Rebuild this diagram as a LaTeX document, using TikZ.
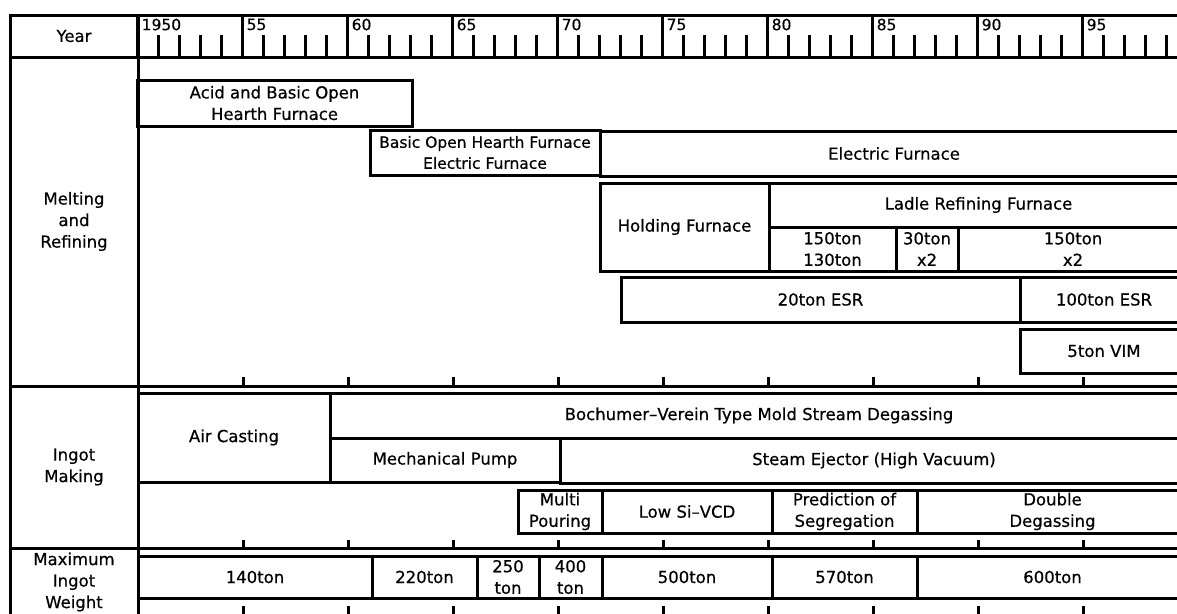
\documentclass[tikz,border=0pt]{standalone}
\usepackage{fontspec}
\setmainfont{DejaVu Sans}[FakeBold=0.5]
\newfontfamily\tlfont{DejaVu Sans}[FakeBold=0.5]
\tikzset{
  cell/.style={draw, line width=3pt, rectangle, inner sep=0pt, outer sep=0pt,
    align=center, font=\tlfont\fontsize{16.5}{21.5}\selectfont},
  tickline/.style={line width=3pt},
  yearlbl/.style={anchor=north west, inner sep=0pt, font=\tlfont\fontsize{15.5}{15.5}\selectfont},
}
% #1 x1, #2 y1, #3 x2, #4 y2, #5 name, #6 text
\newcommand\tlbox[7][]{%
  \pgfmathsetmacro\bxw{#4-#2}\pgfmathsetmacro\bxh{#5-#3}%
  \pgfmathsetmacro\bxx{(#2+#4)/2}\pgfmathsetmacro\bxy{(#3+#5)/2}%
  \node[cell, minimum width=\bxw pt, minimum height=\bxh pt, #1] (#6) at (\bxx,\bxy) {#7};}
\begin{document}
\begin{tikzpicture}[x=1pt,y=-1pt]
\useasboundingbox (0,0) rectangle (1177,613);
\fill[white] (0,0) rectangle (1177,613);
\clip (0,0) rectangle (1177,613);

% ---------- left column ----------
\tlbox{10}{15}{138}{57}{year}{Year}
\tlbox{10}{57}{138}{386}{melt}{Melting\\and\\Refining}
\tlbox{10}{386}{138}{548}{ingot}{Ingot\\Making}
\tlbox{10}{548}{138}{616}{maxw}{Maximum\\Ingot\\Weight}

% ---------- section frames ----------
\tlbox{138}{15}{1188}{57}{scale}{}
\tlbox{138}{57}{1188}{386}{meltarea}{}
\tlbox{138}{386}{1188}{548}{ingotarea}{}
\tlbox{138}{548}{1188}{616}{weightarea}{}

% ---------- year scale ----------
\foreach \j/\lab in {0/1950,1/55,2/60,3/65,4/70,5/75,6/80,7/85,8/90,9/95}{
  \draw[tickline] ({137+105*\j},15) -- ({137+105*\j},57);
  \node[yearlbl] (yl\j) at ({141.5+105*\j},18.5) {\lab};
  \foreach \i in {1,2,3,4}{
    \draw[tickline] ({137+105*\j+21*\i},35) -- ({137+105*\j+21*\i},57);
  }
}
\foreach \j in {1,...,9}{
  \draw[tickline] ({138.5+105*\j},377) -- ({138.5+105*\j},386);
  \draw[tickline] ({138.5+105*\j},540) -- ({138.5+105*\j},548);
  \draw[tickline] ({138.5+105*\j},606) -- ({138.5+105*\j},616);
}

% ---------- melting and refining ----------
\tlbox{137}{80}{412}{126}{acid}{Acid and Basic Open\\Hearth Furnace}
\tlbox[font=\tlfont\fontsize{15.5}{21}\selectfont]{370}{130}{600}{175}{boh}{Basic Open Hearth Furnace\\Electric Furnace}
\tlbox{600}{131}{1188}{176}{ef}{Electric Furnace}
\tlbox{600}{183}{769}{271}{hold}{Holding Furnace}
\tlbox{769}{183}{1188}{227}{ladle}{Ladle Refining Furnace}
\tlbox{769}{227}{896}{271}{l1}{150ton\\130ton}
\tlbox{896}{227}{958}{271}{l2}{30ton\\x2}
\tlbox{958}{227}{1188}{271}{l3}{150ton\\x2}
\tlbox{621}{277}{1020}{322}{esr20}{20ton ESR}
\tlbox{1020}{277}{1188}{322}{esr100}{100ton ESR}
\tlbox{1020}{329}{1188}{373}{vim}{5ton VIM}

% ---------- ingot making ----------
\tlbox{138}{393}{330}{482}{air}{Air Casting}
\tlbox{330}{393}{1188}{438}{boch}{Bochumer–Verein Type Mold Stream Degassing}
\tlbox{330}{438}{560}{482}{mech}{Mechanical Pump}
\tlbox{560}{438}{1188}{483}{steam}{Steam Ejector (High Vacuum)}
\tlbox{518}{490}{602}{533}{multi}{Multi\\Pouring}
\tlbox{602}{490}{772}{533}{lowsi}{Low Si–VCD}
\tlbox{772}{490}{917}{533}{pred}{Prediction of\\Segregation}
\tlbox{917}{490}{1188}{533}{dbl}{Double\\Degassing}

% ---------- maximum ingot weight ----------
\tlbox{138}{556}{372}{598}{w140}{140ton}
\tlbox{372}{556}{477}{598}{w220}{220ton}
\tlbox{477}{556}{539}{598}{w250}{250\\ton}
\tlbox{539}{556}{602}{598}{w400}{400\\ton}
\tlbox{602}{556}{772}{598}{w500}{500ton}
\tlbox{772}{556}{917}{598}{w570}{570ton}
\tlbox{917}{556}{1188}{598}{w600}{600ton}
\end{tikzpicture}
\end{document}
